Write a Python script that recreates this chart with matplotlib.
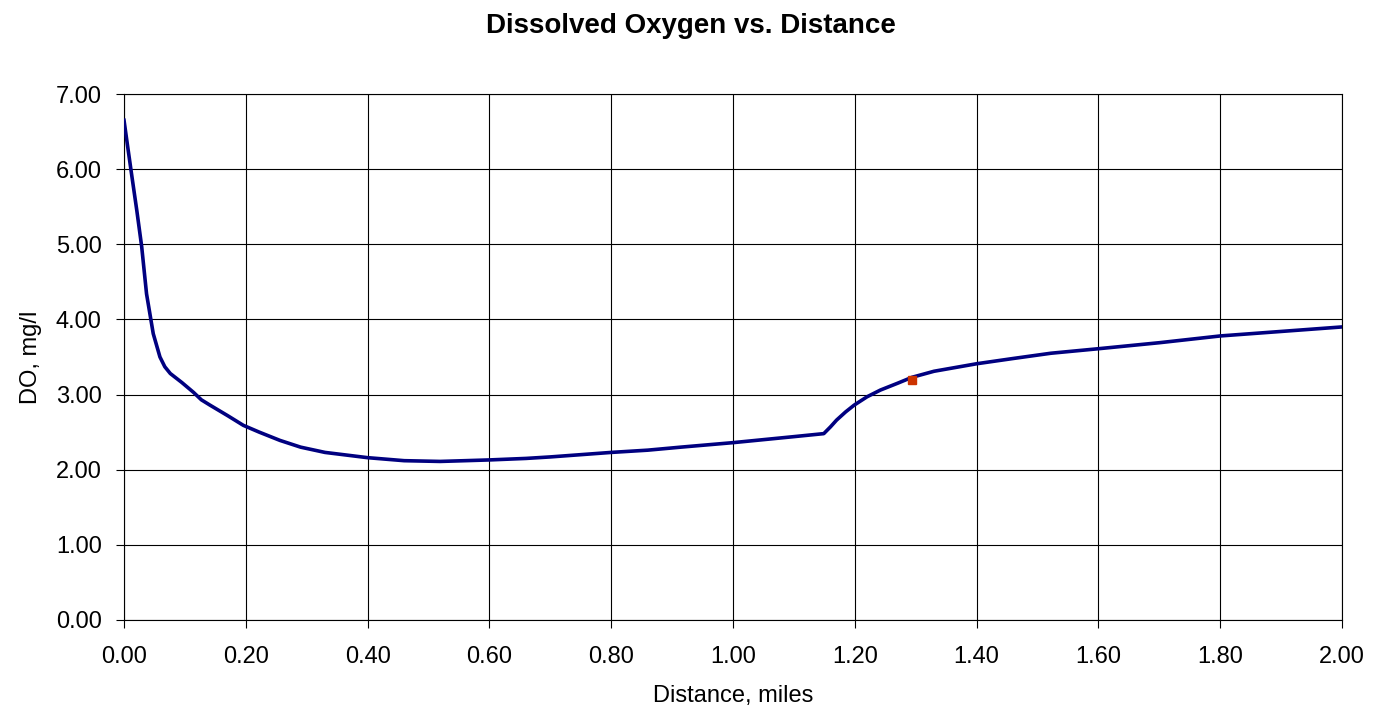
import matplotlib.pyplot as plt
import numpy as np

plt.rcParams['font.family'] = ['Liberation Sans', 'DejaVu Sans']

# DO profile
distance = [0.000, 0.006, 0.013, 0.021, 0.029, 0.037, 0.048, 0.059, 0.067, 0.076,
            0.095, 0.114, 0.127, 0.141, 0.170, 0.196, 0.222, 0.256, 0.290, 0.330,
            0.370, 0.400, 0.430, 0.460, 0.519, 0.560, 0.600, 0.660, 0.700, 0.750,
            0.800, 0.860, 0.914, 1.000, 1.050, 1.100, 1.149, 1.160, 1.170, 1.185,
            1.199, 1.220, 1.242, 1.270, 1.294, 1.330, 1.365, 1.400, 1.460, 1.522,
            1.600, 1.700, 1.800, 1.900, 2.000]
do_mgl = [6.65, 6.30, 5.90, 5.45, 4.97, 4.34, 3.81, 3.50, 3.37, 3.28,
          3.16, 3.03, 2.93, 2.86, 2.72, 2.59, 2.50, 2.39, 2.30, 2.23,
          2.19, 2.16, 2.14, 2.12, 2.11, 2.12, 2.13, 2.15, 2.17, 2.20,
          2.23, 2.26, 2.30, 2.36, 2.40, 2.44, 2.48, 2.57, 2.66, 2.77,
          2.86, 2.97, 3.06, 3.15, 3.23, 3.31, 3.36, 3.41, 3.48, 3.55,
          3.61, 3.69, 3.78, 3.84, 3.90]

# single observed point
obs_x = [1.294]
obs_y = [3.19]

fig = plt.figure(figsize=(13.81, 7.10), dpi=100)
ax = fig.add_axes([0.0898, 0.1268, 0.882, 0.7408])

ax.plot(distance, do_mgl, color='#000080', linewidth=2.6, zorder=3,
        solid_joinstyle='round')
ax.plot(obs_x, obs_y, linestyle='none', marker='s', markersize=5.5,
        color='#CC3300', zorder=4)

ax.set_xlim(0, 2.0)
ax.set_ylim(0, 7.0)
ax.set_xticks(np.arange(0, 2.01, 0.2))
ax.set_yticks(np.arange(0, 7.01, 1.0))
ax.set_xticklabels([f'{v:.2f}' for v in np.arange(0, 2.01, 0.2)])
ax.set_yticklabels([f'{v:.2f}' for v in np.arange(0, 7.01, 1.0)])
ax.tick_params(labelsize=17, direction='out', length=6, width=0.8, colors='black')
ax.tick_params(axis='x', pad=13)
ax.tick_params(axis='y', pad=10)
ax.grid(True, color='black', linewidth=0.8)
for s in ax.spines.values():
    s.set_linewidth(0.8)
    s.set_color('black')

ax.set_xlabel('Distance, miles', fontsize=17, labelpad=12)
ax.set_ylabel('DO, mg/l', fontsize=17, labelpad=10)
fig.suptitle('Dissolved Oxygen vs. Distance', fontsize=20, fontweight='bold', y=0.982)

fig.savefig('out.png', dpi=100)
